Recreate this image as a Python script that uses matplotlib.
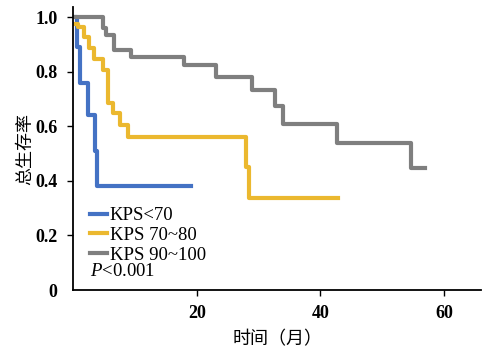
import matplotlib.pyplot as plt
import numpy as np

plt.rcParams['font.family'] = ['Liberation Serif', 'Noto Sans CJK SC']
plt.rcParams['mathtext.fontset'] = 'custom'
plt.rcParams['mathtext.it'] = 'Liberation Serif:italic'
plt.rcParams['mathtext.rm'] = 'Liberation Serif'

# Kaplan-Meier steps (month, survival after drop)
blue_t = [0, 0.65, 1.1, 2.4, 3.5, 3.8]
blue_s = [1.0, 0.89, 0.76, 0.64, 0.51, 0.38]
blue_end = 19

yellow_t = [0, 0.8, 1.8, 2.6, 3.4, 4.8, 5.6, 6.5, 7.6, 8.9, 27.9, 28.4]
yellow_s = [0.975, 0.963, 0.927, 0.886, 0.845, 0.806, 0.685, 0.648, 0.604, 0.56, 0.45, 0.337]
yellow_end = 42.9

gray_t = [0, 4.8, 5.3, 6.6, 9.4, 17.9, 23.1, 29.0, 32.6, 34.0, 42.7, 54.7]
gray_s = [1.0, 0.96, 0.935, 0.88, 0.855, 0.824, 0.78, 0.733, 0.674, 0.61, 0.538, 0.447]
gray_end = 56.9

labels = ['KPS<70', 'KPS 70~80', 'KPS 90~100']
colors = ['#4472C4', '#EBB82F', '#7F7F7F']

fig = plt.figure(figsize=(4.9, 3.52), dpi=100)
ax = fig.add_axes([0.149, 0.176, 0.833, 0.804])

series = [(blue_t, blue_s, blue_end), (yellow_t, yellow_s, yellow_end), (gray_t, gray_s, gray_end)]
for (t, s, end), lab, c in zip(series, labels, colors):
    ax.step(t + [end], s + [s[-1]], where='post', color=c, lw=3, label=lab)

ax.set_xlim(0, 66)
ax.set_ylim(0, 1.037)
ax.set_xticks([20, 40, 60])
ax.set_yticks([0, 0.2, 0.4, 0.6, 0.8, 1.0])
ax.set_yticklabels(['0', '0.2', '0.4', '0.6', '0.8', '1.0'])
ax.tick_params(direction='out', length=4, width=1, labelsize=13, pad=7)
for lab in ax.get_xticklabels() + ax.get_yticklabels():
    lab.set_fontweight('bold')
ax.yaxis.get_major_ticks()[0].tick1line.set_visible(False)

for sp in ['top', 'right']:
    ax.spines[sp].set_visible(False)
for sp in ['left', 'bottom']:
    ax.spines[sp].set_linewidth(1.3)

ax.set_ylabel('总生存率', family='Noto Sans CJK SC', fontsize=13, labelpad=1)
ax.set_xlabel('时间（月）', family='Noto Sans CJK SC', fontsize=13, labelpad=6)

leg = ax.legend(loc='upper left', bbox_to_anchor=(0.042, 0.293), frameon=False,
                fontsize=13.5, handlelength=0.9, handletextpad=0.15,
                labelspacing=0.14, borderaxespad=0, borderpad=0)
ax.text(0.042, 0.065, '$P$<0.001', transform=ax.transAxes, fontsize=13.5, va='center')

fig.savefig('out.png', dpi=100)
